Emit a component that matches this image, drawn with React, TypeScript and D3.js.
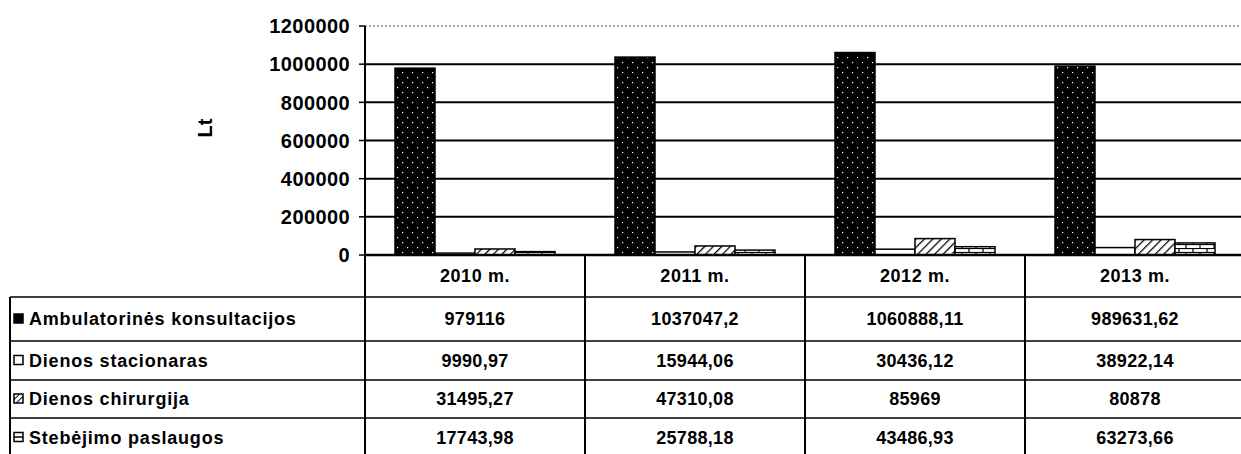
import React, { useEffect, useRef } from 'react';
import { select, scaleBand, scaleLinear } from 'd3';

// chart data
const categories = ['2010 m.', '2011 m.', '2012 m.', '2013 m.'];
const seriesNames = [
  'Ambulatorinės konsultacijos',
  'Dienos stacionaras',
  'Dienos chirurgija',
  'Stebėjimo paslaugos',
];
const ambulatorines = [979116, 1037047.2, 1060888.11, 989631.62];
const stacionaras = [9990.97, 15944.06, 30436.12, 38922.14];
const chirurgija = [31495.27, 47310.08, 85969, 80878];
const stebejimo = [17743.98, 25788.18, 43486.93, 63273.66];
const yTicks = [0, 200000, 400000, 600000, 800000, 1000000, 1200000];
const yLabel = 'Lt';

const series = [ambulatorines, stacionaras, chirurgija, stebejimo];
const fills = ['url(#dots)', '#fff', 'url(#hatch)', 'url(#brick)'];

const W = 1241;
const H = 454;
const FONT = 'Arial, "Liberation Sans", sans-serif';

const App = () => {
  const svgRef = useRef<SVGSVGElement>(null);

  useEffect(() => {
    const svg = select(svgRef.current);
    svg.selectAll('.chart').remove();
    const g = svg.append('g').attr('class', 'chart');

    const left = 365;
    const right = 1245;
    const top = 26;
    const zero = 255;
    const headerBottom = 297;
    const tableLeft = 10;
    const rowH = [297, 341, 380, 418, 457];

    const x = scaleBand().domain(categories).range([left, right]);
    const xInner = scaleBand()
      .domain(seriesNames)
      .range([0, x.bandwidth()])
      .paddingOuter(0.75);
    const y = scaleLinear().domain([0, 1200000]).range([zero, top]);

    // gridlines
    g.selectAll('.grid')
      .data(yTicks.slice(1))
      .join('line')
      .attr('x1', left)
      .attr('x2', W)
      .attr('y1', (d) => y(d))
      .attr('y2', (d) => y(d))
      .attr('stroke', (d) => (d === 1200000 ? '#555' : '#000'))
      .attr('stroke-width', (d) => (d === 1200000 ? 1 : 2))
      .attr('stroke-dasharray', (d) => (d === 1200000 ? '2,2' : null));

    // tick labels + ticks
    g.selectAll('.tick-label')
      .data(yTicks)
      .join('text')
      .attr('x', 350)
      .attr('y', (d) => y(d))
      .attr('dy', '0.36em')
      .attr('text-anchor', 'end')
      .attr('font-family', FONT)
      .attr('font-weight', 'bold')
      .attr('font-size', 20)
      .attr('letter-spacing', 0.4)
      .text((d) => d);
    g.selectAll('.tick')
      .data(yTicks)
      .join('line')
      .attr('x1', 359)
      .attr('x2', left)
      .attr('y1', (d) => y(d))
      .attr('y2', (d) => y(d))
      .attr('stroke', '#000')
      .attr('stroke-width', 1.5);

    g.append('text')
      .attr('transform', `translate(212, 128) rotate(-90)`)
      .attr('text-anchor', 'middle')
      .attr('font-family', FONT)
      .attr('font-weight', 'bold')
      .attr('font-size', 20)
      .text(yLabel);

    // bars
    series.forEach((values, si) => {
      g.append('g')
        .selectAll('rect')
        .data(values)
        .join('rect')
        .attr('x', (d, i) => x(categories[i])! + xInner(seriesNames[si])!)
        .attr('width', xInner.bandwidth())
        .attr('y', (d) => y(d))
        .attr('height', (d) => zero - y(d))
        .attr('fill', fills[si])
        .attr('stroke', '#000')
        .attr('stroke-width', 1.5);
    });

    // axis + table lines
    g.append('line')
      .attr('x1', left)
      .attr('x2', left)
      .attr('y1', top)
      .attr('y2', H)
      .attr('stroke', '#000')
      .attr('stroke-width', 2);
    g.append('line')
      .attr('x1', left)
      .attr('x2', W)
      .attr('y1', zero)
      .attr('y2', zero)
      .attr('stroke', '#000')
      .attr('stroke-width', 2.5);
    g.selectAll('.vline')
      .data(categories.slice(1))
      .join('line')
      .attr('x1', (d) => x(d)!)
      .attr('x2', (d) => x(d)!)
      .attr('y1', zero)
      .attr('y2', H)
      .attr('stroke', '#000')
      .attr('stroke-width', 2);
    g.append('line')
      .attr('x1', tableLeft)
      .attr('x2', tableLeft)
      .attr('y1', headerBottom)
      .attr('y2', H)
      .attr('stroke', '#000')
      .attr('stroke-width', 2);
    g.selectAll('.hline')
      .data(rowH.slice(0, 4))
      .join('line')
      .attr('x1', tableLeft)
      .attr('x2', W)
      .attr('y1', (d) => d)
      .attr('y2', (d) => d)
      .attr('stroke', '#000')
      .attr('stroke-width', 1.5);

    // header
    g.selectAll('.head')
      .data(categories)
      .join('text')
      .attr('x', (d) => x(d)! + x.bandwidth() / 2)
      .attr('y', (zero + headerBottom) / 2)
      .attr('dy', '0.36em')
      .attr('text-anchor', 'middle')
      .attr('font-family', FONT)
      .attr('font-weight', 'bold')
      .attr('font-size', 18)
      .attr('letter-spacing', 0.6)
      .text((d) => d);

    // rows
    series.forEach((values, si) => {
      const cy = (rowH[si] + rowH[si + 1]) / 2;
      const row = g.append('g');
      row
        .append('rect')
        .attr('x', 14)
        .attr('y', cy - 5)
        .attr('width', 9)
        .attr('height', 9)
        .attr('fill', si === 0 ? '#000' : si === 2 ? 'url(#hatchSmall)' : '#fff')
        .attr('stroke', '#000')
        .attr('stroke-width', 1.5);
      if (si === 3) {
        row
          .append('line')
          .attr('x1', 14)
          .attr('x2', 23)
          .attr('y1', cy - 0.5)
          .attr('y2', cy - 0.5)
          .attr('stroke', '#000')
          .attr('stroke-width', 1.5);
      }
      row
        .append('text')
        .attr('x', 29)
        .attr('y', cy)
        .attr('dy', '0.36em')
        .attr('font-family', FONT)
        .attr('font-weight', 'bold')
        .attr('font-size', 18)
        .attr('letter-spacing', 0.8)
        .text(seriesNames[si]);
      row
        .selectAll('.val')
        .data(values)
        .join('text')
        .attr('x', (d, i) => x(categories[i])! + x.bandwidth() / 2)
        .attr('y', cy)
        .attr('dy', '0.36em')
        .attr('text-anchor', 'middle')
        .attr('font-family', FONT)
        .attr('font-weight', 'bold')
        .attr('font-size', 18)
        .attr('letter-spacing', 0.3)
        .text((d) => String(d).replace('.', ','));
    });
  }, []);

  return (
    <div style={{ position: 'absolute', left: 0, top: 0 }}>
      <svg ref={svgRef} width={W} height={H} style={{ display: 'block', background: '#fff' }}>
        <defs>
          <pattern id="dots" width="10" height="10" patternUnits="userSpaceOnUse">
            <rect width="10" height="10" fill="#000" />
            <rect x="2" y="2" width="1.2" height="1.2" fill="#fff" />
            <rect x="7" y="7" width="1.2" height="1.2" fill="#fff" />
          </pattern>
          <pattern
            id="hatch"
            width="6"
            height="6"
            patternUnits="userSpaceOnUse"
            patternTransform="rotate(45)"
          >
            <rect width="6" height="6" fill="#fff" />
            <line x1="0" y1="0" x2="0" y2="6" stroke="#000" strokeWidth="2.5" />
          </pattern>
          <pattern
            id="hatchSmall"
            width="4"
            height="4"
            patternUnits="userSpaceOnUse"
            patternTransform="rotate(45)"
          >
            <rect width="4" height="4" fill="#fff" />
            <line x1="0" y1="0" x2="0" y2="4" stroke="#000" strokeWidth="2" />
          </pattern>
          <pattern id="brick" width="14" height="8" patternUnits="userSpaceOnUse">
            <rect width="14" height="8" fill="#fff" />
            <line x1="0" y1="0.5" x2="14" y2="0.5" stroke="#000" strokeWidth="1.2" />
            <line x1="0" y1="4.5" x2="14" y2="4.5" stroke="#000" strokeWidth="1.2" />
            <line x1="3" y1="0" x2="3" y2="4.5" stroke="#000" strokeWidth="1.2" />
            <line x1="10" y1="4.5" x2="10" y2="8" stroke="#000" strokeWidth="1.2" />
          </pattern>
        </defs>
      </svg>
    </div>
  );
};

export default App;
